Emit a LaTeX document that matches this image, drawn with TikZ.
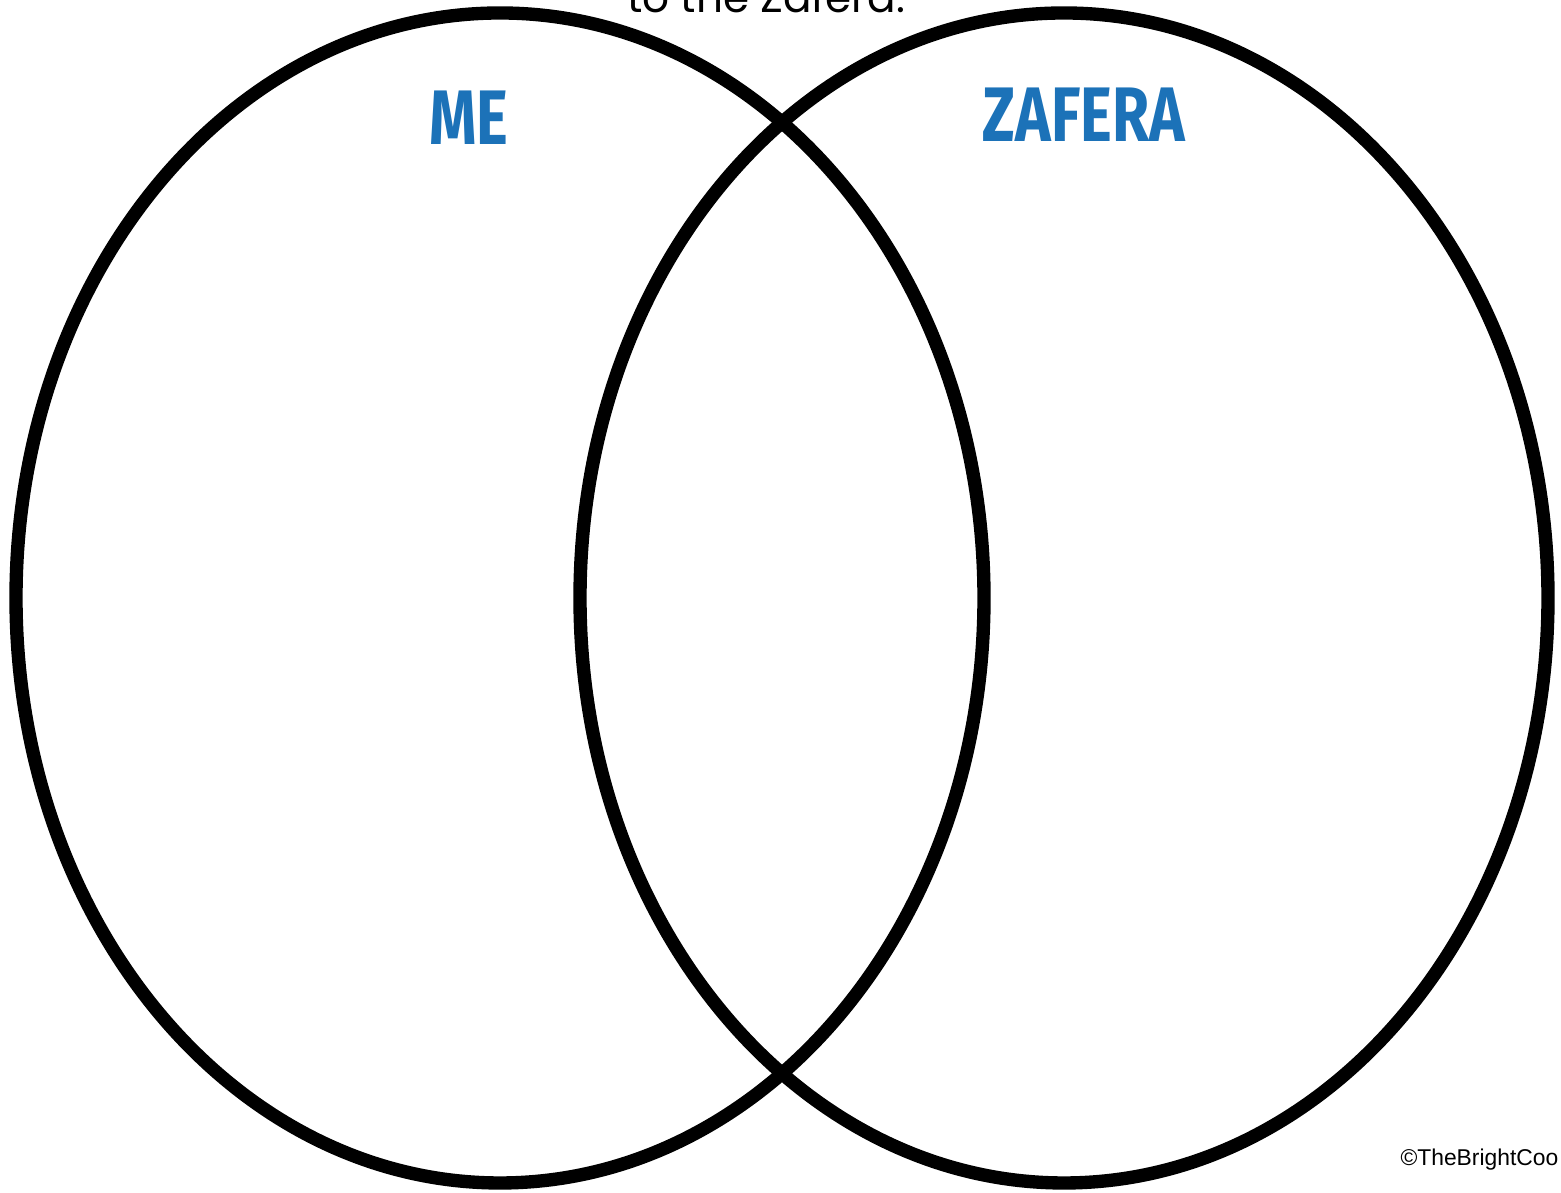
\documentclass[tikz,border=0pt]{standalone}
\usepackage{fontspec}
\setmainfont{Liberation Sans}
\usepackage{tikz}
\usetikzlibrary{shapes.geometric}
\newfontfamily\labelfont[FakeStretch=0.78]{Fira Sans}
\newfontfamily\topfont{Poppins}
\definecolor{vennblue}{RGB}{28,114,184}

\begin{document}
\begin{tikzpicture}[
        x=1cm, y=1cm,
        every node/.style={font=\small},
        vennset/.style={draw=black, line width=3.8pt, ellipse, inner sep=0pt,
                        minimum width=9.68cm, minimum height=11.70cm},
        setlabel/.style={text=vennblue, font=\labelfont\bfseries\fontsize{22}{26}\selectfont, inner sep=0pt}
    ]
        \useasboundingbox (0,0) rectangle (15.61,11.93);

        \node[vennset] (me) at (5.00,5.95) {};
        \node[vennset] (zafera) at (10.64,5.95) {};

        \node[setlabel] (melabel) at (4.69,10.75) {ME};
        \node[setlabel] (zaferalabel) at (10.84,10.78) {ZAFERA};

        % heading, cut off at the top edge
        \node[anchor=base, inner sep=0pt, font=\topfont\fontsize{12}{14}\selectfont] (heading) at (7.66,11.80) {to the Zafera.};

        \node[anchor=east, inner sep=0pt, font=\fontsize{6.5}{8}\selectfont] (credit) at (15.59,0.33) {©TheBrightCoo};
    \end{tikzpicture}
\end{document}
